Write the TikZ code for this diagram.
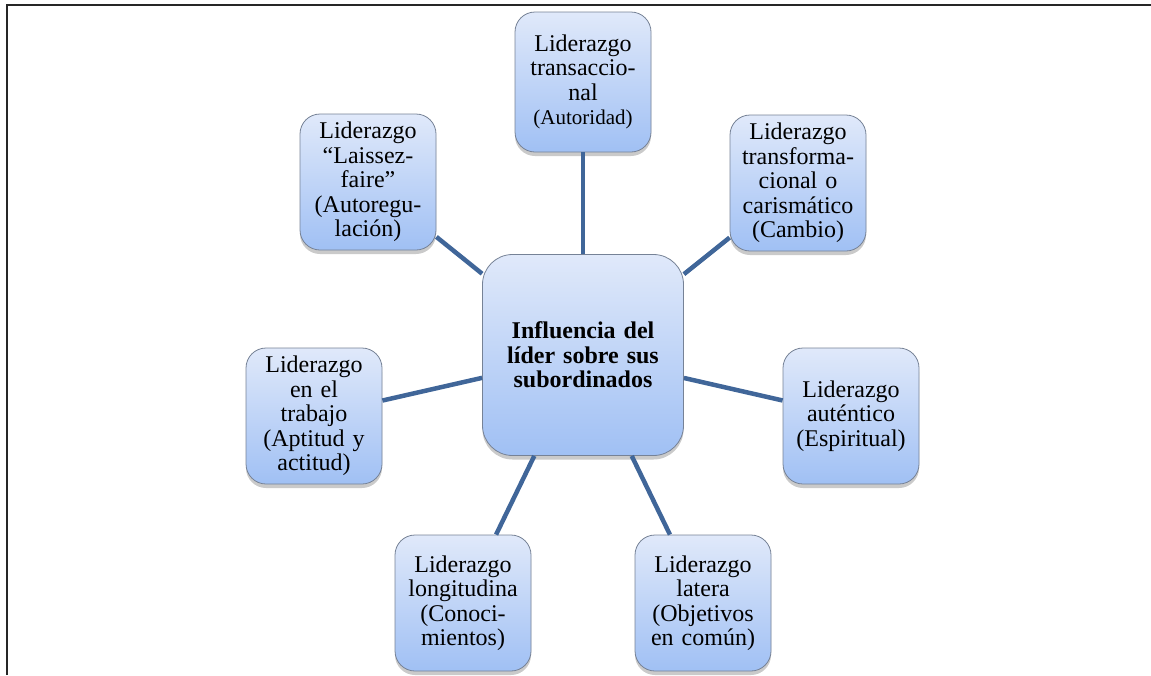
\documentclass[tikz,border=0pt]{standalone}
\usepackage{fontspec}
\setmainfont{Liberation Serif}
\usetikzlibrary{shadows}
\definecolor{conector}{RGB}{64,102,153}
\definecolor{claro}{RGB}{224,233,250}
\definecolor{oscuro}{RGB}{160,192,244}
\definecolor{borde}{RGB}{118,130,150}

\begin{document}
\begin{tikzpicture}[x=1pt,y=-1pt,
    caja/.style={draw=borde,line width=0.8pt,rounded corners=20pt,top color=claro,bottom color=oscuro,
        drop shadow={shadow xshift=0pt,shadow yshift=-4pt,opacity=0.35,fill=black!60},
        align=center,inner sep=6pt,text width=124pt,minimum width=136pt,minimum height=136pt,
        font=\fontsize{24}{24.5}\selectfont},
    centro/.style={caja,rounded corners=30pt,text width=189pt,minimum width=201pt,minimum height=201pt,
        font=\fontsize{24}{24.5}\selectfont\bfseries},
    linea/.style={draw=conector,line width=4.5pt}]
    \useasboundingbox (0,0) rectangle (1151,675);
    \draw[line width=2pt,black!85] (7,675) -- (7,5) -- (1151,5);
    \node[centro] (lider) at (583,355) {Influencia del\\ líder sobre sus\\ subordinados};
    \node[caja,minimum height=140pt] (transaccional) at (583,82)
        {Liderazgo\\ transaccio-\\ nal\\ {\fontsize{21}{22}\selectfont(Autoridad)}};
    \node[caja] (laissez) at (368,182) {Liderazgo\\ “Laissez-\\ faire”\\ (Autoregu-\\ lación)};
    \node[caja] (transformacional) at (798,183) {Liderazgo\\ transforma-\\ cional o\\ carismático\\ (Cambio)};
    \node[caja] (trabajo) at (314,416) {Liderazgo\\ en el\\ trabajo\\ (Aptitud y\\ actitud)};
    \node[caja] (autentico) at (851,416) {Liderazgo\\ auténtico\\ (Espiritual)};
    \node[caja] (longitudina) at (463,603) {Liderazgo\\ longitudina\\ (Conoci-\\ mientos)};
    \node[caja] (latera) at (703,603) {Liderazgo\\ latera\\ (Objetivos\\ en común)};
    \draw[linea] (lider) -- (transaccional);
    \draw[linea] (lider) -- (laissez);
    \draw[linea] (lider) -- (transformacional);
    \draw[linea] (lider) -- (trabajo);
    \draw[linea] (lider) -- (autentico);
    \draw[linea] (lider) -- (longitudina);
    \draw[linea] (lider) -- (latera);
\end{tikzpicture}
\end{document}
